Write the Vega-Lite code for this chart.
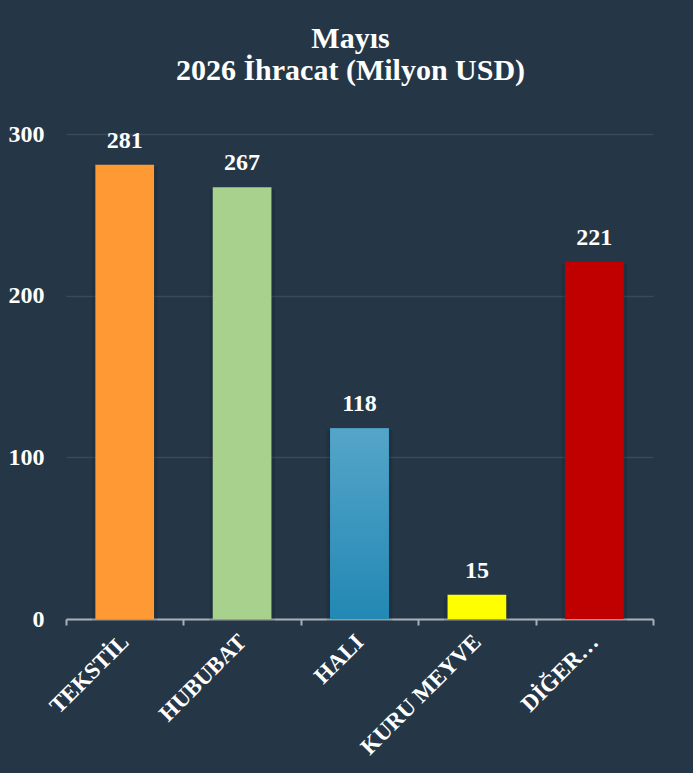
{
  "$schema": "https://vega.github.io/schema/vega-lite/v6.json",
  "width": 587,
  "height": 485,
  "autosize": {"type": "none"},
  "padding": {"left": 66, "top": 134, "right": 40, "bottom": 154},
  "background": "#253747",
  "config": {"view": {"stroke": null}, "font": "Liberation Serif, Times New Roman, Times, DejaVu Serif, serif"},
  "title": {
    "text": ["Mayıs", "2026 İhracat (Milyon USD)"],
    "color": "#ffffff",
    "font": "Liberation Serif, Times New Roman, Times, DejaVu Serif, serif",
    "fontSize": 30,
    "fontWeight": "bold",
    "lineHeight": 32,
    "anchor": "middle",
    "frame": "group",
    "dx": -9,
    "offset": 36
  },
  "data": {
    "values": [
      {"kategori": "TEKSTİL", "deger": 281},
      {"kategori": "HUBUBAT", "deger": 267},
      {"kategori": "HALI", "deger": 118},
      {"kategori": "KURU MEYVE", "deger": 15},
      {"kategori": "DİĞER…", "deger": 221}
    ]
  },
  "encoding": {
    "x": {
      "field": "kategori",
      "type": "nominal",
      "sort": null,
      "scale": {"paddingInner": 0, "paddingOuter": 0},
      "axis": {
        "title": null,
        "grid": false,
        "domainColor": "#a9b1b9",
        "domainWidth": 2,
        "tickColor": "#a9b1b9",
        "tickWidth": 2,
        "tickSize": 6,
        "tickBand": "extent",
        "labelAngle": -45,
        "labelAlign": "right",
        "labelBaseline": "middle",
        "labelColor": "#ffffff",
        "labelFont": "Liberation Serif, Times New Roman, Times, DejaVu Serif, serif",
        "labelFontSize": 23,
        "labelFontWeight": "bold",
        "labelPadding": 13,
        "labelLimit": 0
      }
    },
    "y": {
      "field": "deger",
      "type": "quantitative",
      "scale": {"domain": [0, 300], "nice": false},
      "axis": {
        "title": null,
        "values": [0, 100, 200, 300],
        "grid": true,
        "gridColor": "#3a4a5a",
        "gridWidth": 1.5,
        "domain": false,
        "ticks": false,
        "labelPadding": 22,
        "labelColor": "#ffffff",
        "labelFont": "Liberation Serif, Times New Roman, Times, DejaVu Serif, serif",
        "labelFontSize": 24,
        "labelFontWeight": "bold"
      }
    }
  },
  "layer": [
    {
      "mark": {"type": "bar", "width": {"band": 0.56}, "color": "#000000", "opacity": 0.12, "yOffset": 2},
      "encoding": {}
    },
    {
      "mark": {"type": "bar", "width": {"band": 0.5}},
      "encoding": {
        "color": {
          "field": "kategori",
          "type": "nominal",
          "legend": null,
          "scale": {
            "domain": ["TEKSTİL", "HUBUBAT", "HALI", "KURU MEYVE", "DİĞER…"],
            "range": ["#ff9933", "#a9d18e", "#2a8bb6", "#ffff00", "#c00000"]
          }
        }
      }
    },
    {
      "transform": [{"filter": "datum.kategori === 'HALI'"}],
      "mark": {
        "type": "bar",
        "width": {"band": 0.5},
        "color": {
          "gradient": "linear",
          "x1": 0, "y1": 0, "x2": 0, "y2": 1,
          "stops": [
            {"offset": 0, "color": "#55a5c9"},
            {"offset": 1, "color": "#2288b4"}
          ]
        }
      }
    },
    {
      "mark": {
        "type": "text",
        "dy": -24,
        "color": "#ffffff",
        "font": "Liberation Serif, Times New Roman, Times, DejaVu Serif, serif",
        "fontSize": 24,
        "fontWeight": "bold"
      },
      "encoding": {"text": {"field": "deger", "type": "quantitative"}}
    }
  ]
}
